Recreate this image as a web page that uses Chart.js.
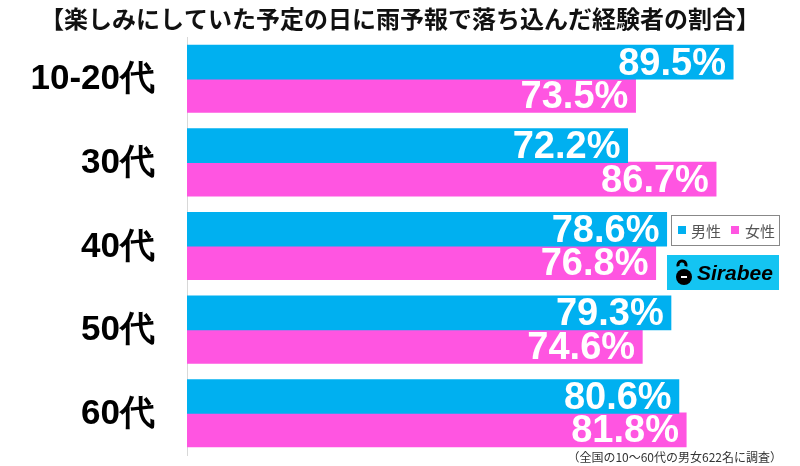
<!DOCTYPE html>
<html>
<head>
<meta charset="utf-8">
<script src="https://cdn.jsdelivr.net/npm/chart.js@4/dist/chart.umd.min.js"></script>
<style>
  html, body { margin: 0; padding: 0; background: #fff; }
  #wrap { width: 800px; height: 466px; position: relative; }
</style>
</head>
<body>
<div id="wrap"><canvas id="chart" width="800" height="466"></canvas></div>
<script>
const TITLE = "【楽しみにしていた予定の日に雨予報で落ち込んだ経験者の割合】";
const NOTE = "（全国の10〜60代の男女622名に調査）";
const ageGroups = ["10-20代", "30代", "40代", "50代", "60代"];
const maleValues = [89.5, 72.2, 78.6, 79.3, 80.6];
const femaleValues = [73.5, 86.7, 76.8, 74.6, 81.8];
const seriesNames = ["男性", "女性"];

const MALE_COLOR = "#00b0f0";
const FEMALE_COLOR = "#ff55e1";
const JP_FONT = "'Noto Sans CJK JP', 'Liberation Sans', sans-serif";
const NUM_FONT = "'Liberation Sans', Arial, sans-serif";

// category labels, title, value labels, legend box, logo and footnote
const decorations = {
  id: "decorations",
  afterDatasetsDraw(chart) {
    const ctx = chart.ctx;
    const yScale = chart.scales.y;
    ctx.save();

    // category labels
    ctx.fillStyle = "#000";
    ctx.font = "bold 35px " + NUM_FONT;
    ctx.textAlign = "right";
    ctx.textBaseline = "middle";
    ageGroups.forEach((label, i) => {
      ctx.fillText(label, 155, yScale.getPixelForTick(i) + 1);
    });

    // value labels inside the bar ends
    ctx.fillStyle = "#fff";
    ctx.font = "bold 38px " + NUM_FONT;
    chart.data.datasets.forEach((ds, i) => {
      chart.getDatasetMeta(i).data.forEach((bar, j) => {
        ctx.fillText(ds.data[j].toFixed(1) + "%", bar.x - 7, bar.y + 2);
      });
    });

    // title
    ctx.fillStyle = "#111";
    ctx.font = "bold 24px " + JP_FONT;
    ctx.textAlign = "center";
    ctx.fillText(TITLE, 400, 19);

    // legend box
    ctx.fillStyle = "#fff";
    ctx.fillRect(671, 215, 108, 30);
    ctx.strokeStyle = "#888";
    ctx.lineWidth = 1;
    ctx.strokeRect(671.5, 215.5, 108, 30);
    ctx.font = "15px " + JP_FONT;
    ctx.textAlign = "left";
    ctx.fillStyle = MALE_COLOR;
    ctx.fillRect(678, 226, 8, 8);
    ctx.fillStyle = "#555";
    ctx.fillText(seriesNames[0], 691, 231);
    ctx.fillStyle = FEMALE_COLOR;
    ctx.fillRect(731, 226, 8, 8);
    ctx.fillStyle = "#555";
    ctx.fillText(seriesNames[1], 745, 231);

    // Sirabee logo
    ctx.fillStyle = "#14c4f2";
    ctx.fillRect(667, 255, 112, 35);
    ctx.fillStyle = "#000";
    ctx.beginPath();
    ctx.arc(684, 277, 8, 0, Math.PI * 2);
    ctx.fill();
    ctx.beginPath();
    ctx.arc(682, 265, 4, Math.PI * 0.9, Math.PI * 2.1);
    ctx.lineWidth = 3;
    ctx.strokeStyle = "#000";
    ctx.stroke();
    ctx.fillStyle = "#fff";
    ctx.fillRect(681, 276, 6, 2);
    ctx.fillStyle = "#000";
    ctx.font = "italic bold 21px " + NUM_FONT;
    ctx.fillText("Sirabee", 697, 274);

    // footnote
    ctx.fillStyle = "#333";
    ctx.font = "12px " + JP_FONT;
    ctx.textAlign = "right";
    ctx.fillText(NOTE, 782, 457);

    ctx.restore();
  }
};

new Chart(document.getElementById("chart").getContext("2d"), {
  type: "bar",
  data: {
    labels: ageGroups,
    datasets: [
      { label: seriesNames[0], data: maleValues, backgroundColor: MALE_COLOR },
      { label: seriesNames[1], data: femaleValues, backgroundColor: FEMALE_COLOR }
    ]
  },
  options: {
    indexAxis: "y",
    responsive: false,
    animation: false,
    layout: { padding: { top: 37, right: 3, bottom: 11, left: 0 } },
    datasets: { bar: { barPercentage: 1, categoryPercentage: 0.8, inflateAmount: 0.6 } },
    plugins: {
      legend: { display: false },
      tooltip: { enabled: false }
    },
    scales: {
      x: { display: false, min: 0, max: 100 },
      y: {
        afterFit(scale) { scale.width = 187; },
        grid: { display: false, drawTicks: false },
        border: { color: "#d8d8d8", width: 1 },
        ticks: { display: false }
      }
    }
  },
  plugins: [decorations]
});
</script>
</body>
</html>
